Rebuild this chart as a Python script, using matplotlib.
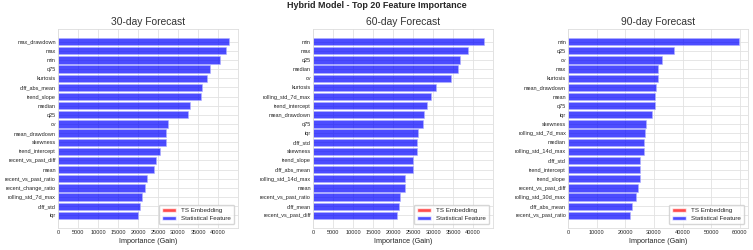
import matplotlib
matplotlib.use("Agg")
import matplotlib.pyplot as plt
from matplotlib.patches import Patch
import seaborn as sns

sns.set_style("whitegrid")
plt.rcParams["font.family"] = ["Liberation Sans", "DejaVu Sans"]

# -------------------- data --------------------
feat_30 = ["max_drawdown", "max", "min", "q75", "kurtosis", "diff_abs_mean",
           "trend_slope", "median", "q25", "cv", "mean_drawdown", "skewness",
           "trend_intercept", "recent_vs_past_diff", "mean", "recent_vs_past_ratio",
           "recent_change_ratio", "rolling_std_7d_max", "diff_std", "iqr"]
gain_30 = [42700, 41900, 40500, 37900, 37300, 36100, 35800, 33100, 32400, 27500,
           27100, 26900, 25600, 24600, 23900, 22300, 21700, 21100, 20500, 20000]

feat_60 = ["min", "max", "q25", "median", "cv", "kurtosis", "rolling_std_7d_max",
           "trend_intercept", "mean_drawdown", "q75", "iqr", "diff_std", "skewness",
           "trend_slope", "diff_abs_mean", "rolling_std_14d_max", "mean",
           "recent_vs_past_ratio", "diff_mean", "recent_vs_past_diff"]
gain_60 = [42800, 38800, 36700, 36300, 34600, 30700, 29500, 28400, 27700, 27600,
           26200, 26100, 25900, 25000, 24950, 23100, 23050, 21700, 21600, 21100]

feat_90 = ["min", "q25", "cv", "max", "kurtosis", "mean_drawdown", "mean", "q75",
           "iqr", "skewness", "rolling_std_7d_max", "median", "rolling_std_14d_max",
           "diff_std", "trend_intercept", "trend_slope", "recent_vs_past_diff",
           "rolling_std_30d_max", "diff_abs_mean", "recent_vs_past_ratio"]
gain_90 = [59800, 37000, 33000, 31400, 31350, 30600, 30400, 30350, 29200, 27300,
           27000, 26500, 26450, 25300, 25250, 25100, 24400, 23700, 22200, 21700]

panels = [("30-day Forecast", feat_30, gain_30, 44900, 5000),
          ("60-day Forecast", feat_60, gain_60, 44900, 5000),
          ("90-day Forecast", feat_90, gain_90, 62800, 10000)]

STAT_COLOR = "blue"
EMB_COLOR = "red"

fig, axes = plt.subplots(1, 3, figsize=(7.53, 2.5), dpi=100)
fig.subplots_adjust(left=0.077, right=0.993, top=0.884, bottom=0.088, wspace=0.42)

for ax, (title, feats, gains, xmax, step) in zip(axes, panels):
    y = list(range(len(feats)))
    ax.barh(y, gains, color=STAT_COLOR, alpha=0.7, edgecolor="#b0b0ff", linewidth=0.6)
    ax.set_yticks(y)
    ax.set_yticklabels(feats)
    ax.invert_yaxis()
    ax.set_xlim(0, xmax)
    ax.set_xticks(range(0, int(xmax) + 1, step))
    ax.tick_params(axis="both", labelsize=4, pad=1.5, length=0)
    ax.set_xlabel("Importance (Gain)", fontsize=5.2, labelpad=2)
    ax.set_title(title, fontsize=7.4, pad=3, color="#333333")
    ax.grid(True, color="#e2e2e2", linewidth=0.6)
    for s in ax.spines.values():
        s.set_color("#dddddd")
        s.set_linewidth(0.6)
    handles = [Patch(facecolor=EMB_COLOR, alpha=0.7, label="TS Embedding"),
               Patch(facecolor=STAT_COLOR, alpha=0.7, label="Statistical Feature")]
    ax.legend(handles=handles, loc="lower right", fontsize=4.5, frameon=True,
              handlelength=2.2, borderpad=0.5, labelspacing=0.4, borderaxespad=0.6)

fig.suptitle("Hybrid Model - Top 20 Feature Importance", fontsize=6.5,
             fontweight="bold", y=0.995)
fig.savefig("out.png", dpi=100)
plt.close()
